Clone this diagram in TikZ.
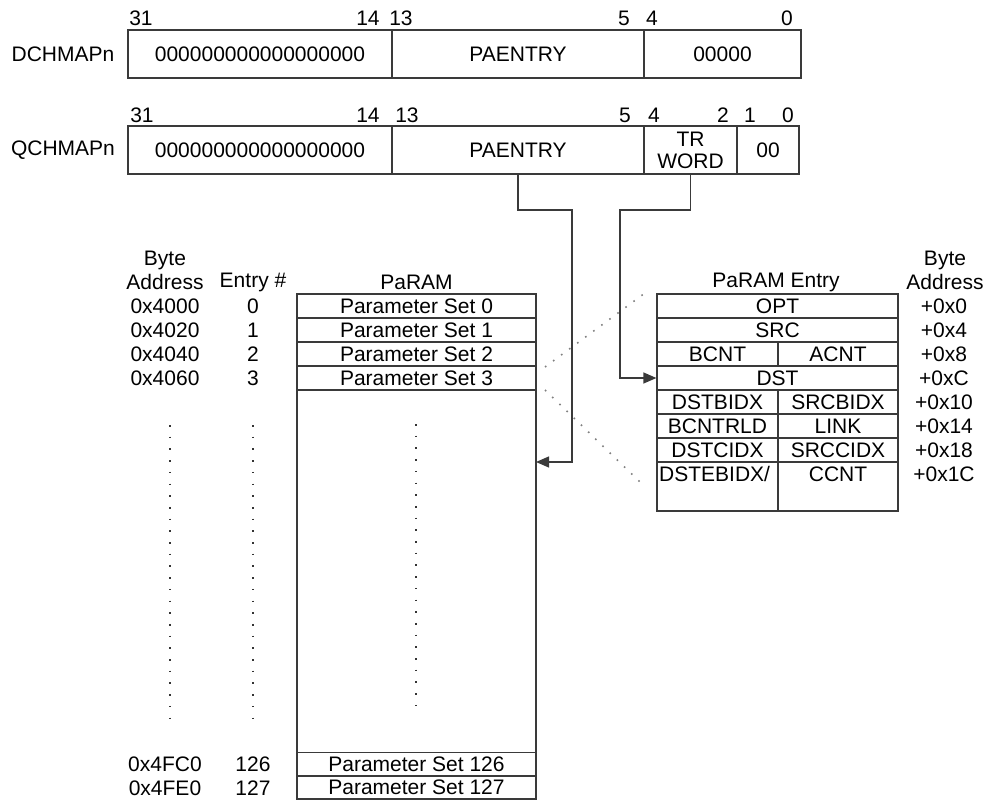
\documentclass[tikz,border=0pt]{standalone}
\usepackage{fontspec}
\setmainfont{Liberation Sans}
\usetikzlibrary{arrows.meta}
\definecolor{lc}{RGB}{58,58,58}
\begin{document}
\begin{tikzpicture}[x=1pt,y=-1pt,
  every node/.style={font=\fontsize{21}{24}\selectfont, inner sep=0pt, text=black},
  cell/.style 2 args={draw=lc, line width=1.2pt, minimum width=#1, minimum height=#2},
  conn/.style={draw=lc, line width=1.2pt, -{Triangle[length=13pt,width=11pt]}},
  vdots/.style={draw=black!80, line width=1.6pt, dash pattern=on 1.6pt off 10.1pt},
  gdots/.style={draw=black!50, line width=1.6pt, dash pattern=on 1.6pt off 8.4pt}]
\useasboundingbox (0,0) rectangle (989,803);

% DCHMAPn register
\node (dlab) at (63,54) {DCHMAPn};
\node[cell={264pt}{48pt}] (d1) at (260,54) {000000000000000000};
\node[cell={252pt}{48pt}] (d2) at (518,54) {PAENTRY};
\node[cell={157pt}{48pt}] (d3) at (722.5,54) {00000};
\node (db31) at (141,18) {31};
\node (db14) at (368,18) {14};
\node (db13) at (401,18) {13};
\node (db5) at (624,18) {5};
\node (db4) at (652,18) {4};
\node (db0) at (787,18) {0};

% QCHMAPn register
\node (qlab) at (63,150) {QCHMAPn};
\node[cell={264pt}{48pt}] (q1) at (260,150) {000000000000000000};
\node[cell={252pt}{48pt}] (q2) at (518,150) {PAENTRY};
\node[cell={93pt}{48pt}, align=center] (q3) at (690.5,150) {TR\\[-2pt]WORD};
\node[cell={62pt}{48pt}] (q4) at (768,150) {00};
\node (qb31) at (142,115) {31};
\node (qb14) at (368,115) {14};
\node (qb13) at (407,115) {13};
\node (qb5) at (625,115) {5};
\node (qb4) at (654,115) {4};
\node (qb2) at (723,115) {2};
\node (qb1) at (750,115) {1};
\node (qb0) at (788,115) {0};

% PaRAM column headers
\node[align=center] (hba) at (165,270) {Byte\\Address};
\node (hen) at (253,282) {Entry \#};
\node (hpr) at (416.5,282) {PaRAM};

% PaRAM table
\node[cell={239pt}{505pt}] (pbox) at (416.5,546.5) {};
\node[cell={239pt}{24pt}] (ps0) at (416.5,306) {Parameter Set 0};
\node[cell={239pt}{24pt}] (ps1) at (416.5,330) {Parameter Set 1};
\node[cell={239pt}{24pt}] (ps2) at (416.5,354) {Parameter Set 2};
\node[cell={239pt}{24pt}] (ps3) at (416.5,378) {Parameter Set 3};
\node[cell={239pt}{23.5pt}] (ps126) at (416.5,764) {Parameter Set 126};
\node[cell={239pt}{23pt}] (ps127) at (416.5,787.5) {Parameter Set 127};

\node (a0) at (165,306) {0x4000};
\node (a1) at (165,330) {0x4020};
\node (a2) at (165,354) {0x4040};
\node (a3) at (165,378) {0x4060};
\node (a126) at (165,764) {0x4FC0};
\node (a127) at (165,788) {0x4FE0};
\node (e0) at (253,306) {0};
\node (e1) at (253,330) {1};
\node (e2) at (253,354) {2};
\node (e3) at (253,378) {3};
\node (e126) at (253,764) {126};
\node (e127) at (253,788) {127};

\draw[vdots] (170,425) -- (170,720);
\draw[vdots] (253,425) -- (253,720);
\draw[vdots] (416,424) -- (416,716);

% PaRAM Entry
\node (hpe) at (776,282) {PaRAM Entry};
\node[align=center] (hba2) at (945,270) {Byte\\Address};
\node[cell={241pt}{24pt}] (opt) at (777.5,306) {OPT};
\node[cell={241pt}{24pt}] (src) at (777.5,330) {SRC};
\node[cell={121pt}{24pt}] (bcnt) at (717.5,354) {BCNT};
\node[cell={120pt}{24pt}] (acnt) at (838,354) {ACNT};
\node[cell={241pt}{24pt}] (dst) at (777.5,378) {DST};
\node[cell={121pt}{24pt}] (dstbidx) at (717.5,402) {DSTBIDX};
\node[cell={120pt}{24pt}] (srcbidx) at (838,402) {SRCBIDX};
\node[cell={121pt}{24pt}] (bcntrld) at (717.5,426) {BCNTRLD};
\node[cell={120pt}{24pt}] (link) at (838,426) {LINK};
\node[cell={121pt}{24pt}] (dstcidx) at (717.5,450) {DSTCIDX};
\node[cell={120pt}{24pt}] (srccidx) at (838,450) {SRCCIDX};
\node[cell={121pt}{49pt}] (dste) at (717.5,486.5) {};
\node[cell={120pt}{49pt}] (ccntc) at (838,486.5) {};
\begin{scope}
\clip (dste.north west) rectangle (dste.south east);
\node[anchor=west] (dstet) at (659,474) {DSTEBIDX/};
\end{scope}
\node (ccnt) at (838,474) {CCNT};

\node (o0) at (944,306) {+0x0};
\node (o4) at (944,330) {+0x4};
\node (o8) at (944,354) {+0x8};
\node (oc) at (944,378) {+0xC};
\node (o10) at (944,402) {+0x10};
\node (o14) at (944,426) {+0x14};
\node (o18) at (944,450) {+0x18};
\node (o1c) at (944,474) {+0x1C};

% zoom lines
\draw[gdots] (545,367) -- (645,293);
\draw[gdots] (545,390) -- (640,482);

% connectors
\coordinate (pin) at (536,462);
\draw[conn] (q2.south) |- (572,210) |- (pin);
\draw[conn] (q3.south) |- (620,210) |- (dst.west);
\end{tikzpicture}
\end{document}
